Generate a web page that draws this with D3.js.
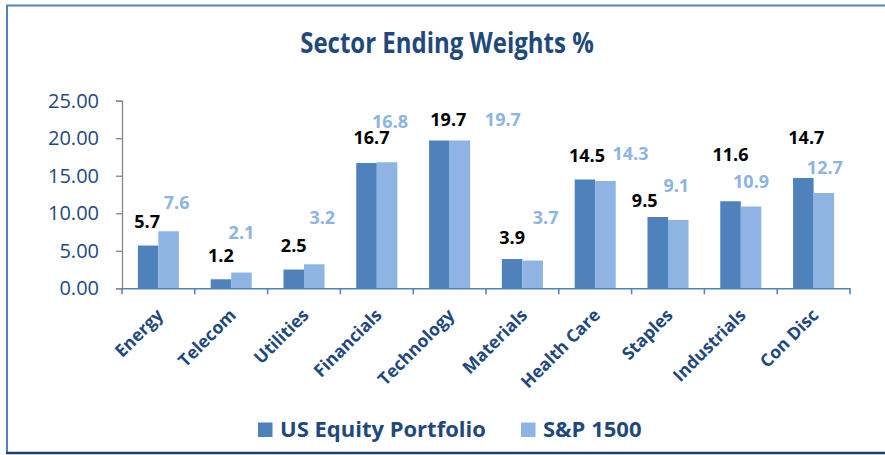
<!DOCTYPE html>
<html>
<head>
<meta charset="utf-8">
<script src="https://cdn.jsdelivr.net/npm/d3@7"></script>
<style>
  body { margin: 0; background: #fff; }
  svg text { font-family: "Open Sans", "DejaVu Sans", sans-serif; }
</style>
</head>
<body>
<div id="chart"></div>
<script>
// ***Data***
var sectors = ["Energy", "Telecom", "Utilities", "Financials", "Technology",
  "Materials", "Health Care", "Staples", "Industrials", "Con Disc"];
var portfolio = [5.7, 1.2, 2.5, 16.7, 19.7, 3.9, 14.5, 9.5, 11.6, 14.7];
var sp1500 = [7.6, 2.1, 3.2, 16.8, 19.7, 3.7, 14.3, 9.1, 10.9, 12.7];
var yTicks = [0, 5, 10, 15, 20, 25];
var seriesNames = ["US Equity Portfolio", "S&P 1500"];

// label nudges (px) from the top centre of each bar, as placed in the original
var darkLabelShift = [[-1, -24], [0, -24], [0, -24], [5, -25], [9, -21], [0, -22], [2, -24], [-13, -16], [0, -47], [3, -40]];
var lightLabelShift = [[8, -29], [0, -40], [8, -47], [3, -41], [43, -21], [13, -43], [25, -27], [-2, -34], [0, -25], [1, -25]];

// ***Set up***
var svgWidth = 885;
var svgHeight = 455;
var navy = "#1f497d";
var colors = ["#4f81bd", "#8eb4e3"];

var svg = d3.select("#chart")
  .append("svg")
  .attr("width", svgWidth)
  .attr("height", svgHeight);

// frame
svg.append("line").attr("x1", 7).attr("x2", 7).attr("y1", 5).attr("y2", 453)
  .attr("stroke", "#4f81bd").attr("stroke-width", 2);
svg.append("line").attr("x1", 6).attr("x2", 885).attr("y1", 5.5).attr("y2", 5.5)
  .attr("stroke", "#4f81bd").attr("stroke-width", 2);
svg.append("line").attr("x1", 6).attr("x2", 885).attr("y1", 453).attr("y2", 453)
  .attr("stroke", "#1f3f6e").attr("stroke-width", 2.5);

// title (taller glyphs like the original)
svg.append("text")
  .attr("transform", "translate(447,53) scale(1,1.17)")
  .attr("text-anchor", "middle")
  .attr("font-size", 24)
  .attr("font-weight", "bold")
  .attr("fill", navy)
  .text("Sector Ending Weights %");

// scales
var x0 = d3.scaleBand()
  .domain(sectors)
  .range([122, 850]);

var x1 = d3.scaleBand()
  .domain(seriesNames)
  .range([x0.bandwidth() * 0.218, x0.bandwidth() * 0.782]);

var y = d3.scaleLinear()
  .domain([0, 25])
  .range([288.3, 100.7]);

// y axis
var yAxis = svg.append("g")
  .attr("transform", "translate(122,0)")
  .call(d3.axisLeft(y).tickValues(yTicks).tickFormat(d3.format(".2f")).tickSize(6).tickPadding(17));
yAxis.select(".domain").attr("stroke", "#868686").attr("stroke-width", 1.3);
yAxis.selectAll(".tick line").attr("stroke", "#868686").attr("stroke-width", 1.3);
yAxis.selectAll(".tick text")
  .attr("font-size", 20)
  .attr("fill", navy)
  .attr("font-family", "'Open Sans', sans-serif");

// bars
var rows = sectors.map(function(s, i) {
  return { sector: s, i: i, values: [portfolio[i], sp1500[i]] };
});

var groups = svg.selectAll("g.sector")
  .data(rows)
  .enter()
  .append("g")
  .attr("class", "sector")
  .attr("transform", d => `translate(${x0(d.sector)},0)`);

groups.selectAll("rect")
  .data(d => d.values.map((v, k) => ({ key: seriesNames[k], k: k, value: v })))
  .enter()
  .append("rect")
  .attr("x", d => x1(d.key))
  .attr("width", x1.bandwidth())
  .attr("y", d => y(d.value))
  .attr("height", d => y(0) - y(d.value))
  .attr("fill", d => colors[d.k]);

// x axis
var xAxis = svg.append("g")
  .attr("transform", `translate(0,${y(0)})`)
  .call(d3.axisBottom(x0).tickSize(0).tickFormat(""));
xAxis.select(".domain").attr("stroke", "#4f81bd").attr("stroke-width", 1.5);
xAxis.selectAll(".tick").remove();

var boundaries = sectors.map(s => x0(s)).concat([x0.range()[1]]);
xAxis.selectAll("line.bound")
  .data(boundaries)
  .enter()
  .append("line")
  .attr("class", "bound")
  .attr("x1", d => d).attr("x2", d => d)
  .attr("y1", 0).attr("y2", 6)
  .attr("stroke", "#4f81bd").attr("stroke-width", 1.5);

// x labels
svg.selectAll("text.xlab")
  .data(sectors)
  .enter()
  .append("text")
  .attr("class", "xlab")
  .attr("transform", d => `translate(${x0(d) + x0.bandwidth() / 2 + 6},${y(0) + 28}) rotate(-45)`)
  .attr("text-anchor", "end")
  .attr("font-size", 17.5)
  .attr("font-weight", "bold")
  .attr("fill", navy)
  .text(d => d);

// value labels
groups.each(function(d) {
  var g = d3.select(this);
  var shifts = [darkLabelShift[d.i], lightLabelShift[d.i]];
  d.values.forEach(function(v, k) {
    g.append("text")
      .attr("x", x1(seriesNames[k]) + x1.bandwidth() / 2 + shifts[k][0])
      .attr("y", y(v) + shifts[k][1])
      .attr("dy", "0.36em")
      .attr("text-anchor", "middle")
      .attr("font-size", 18)
      .attr("font-weight", "bold")
      .attr("fill", k === 0 ? "#000" : colors[1])
      .text(d3.format(".1f")(v));
  });
});

// legend
var legend = svg.append("g");
var legendX = [258, 521];
seriesNames.forEach(function(name, k) {
  legend.append("rect")
    .attr("x", legendX[k])
    .attr("y", 422.5)
    .attr("width", 14.5)
    .attr("height", 14.5)
    .attr("fill", colors[k]);
  legend.append("text")
    .attr("x", legendX[k] + 22)
    .attr("y", 437)
    .attr("font-size", 22)
    .attr("font-weight", "bold")
    .attr("fill", navy)
    .text(name);
});
</script>
</body>
</html>
